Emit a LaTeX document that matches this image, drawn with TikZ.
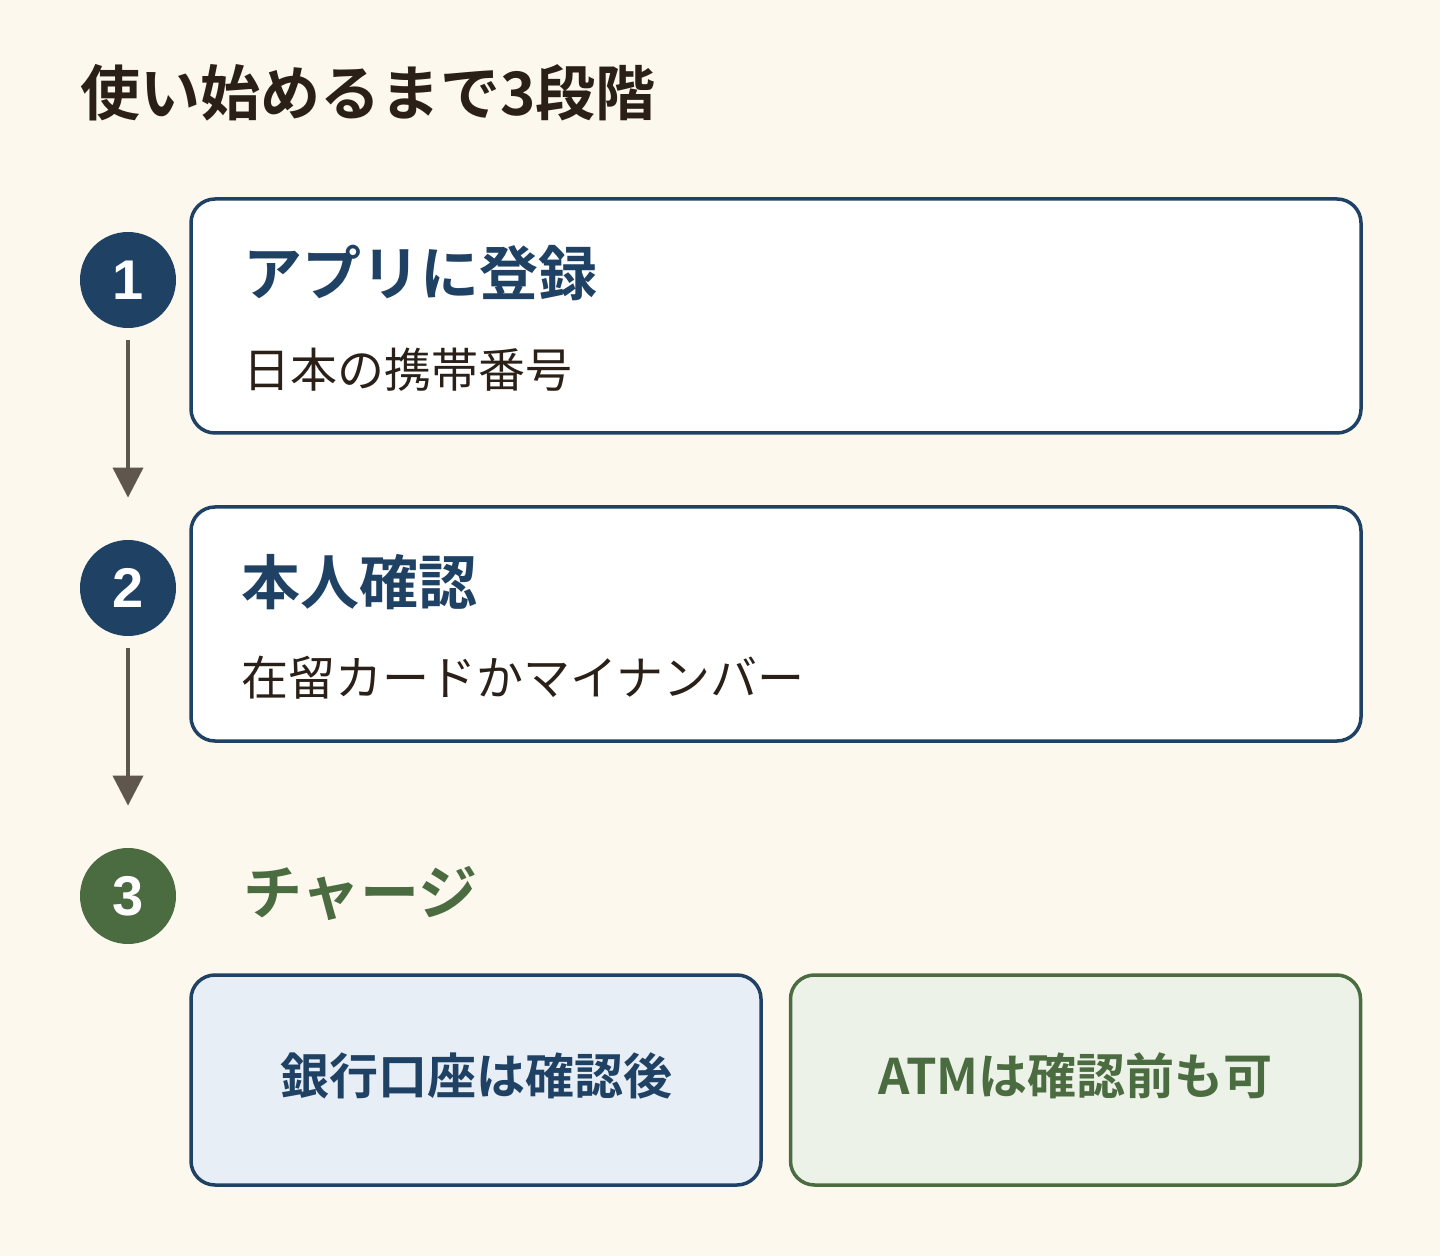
\documentclass[tikz,border=0pt]{standalone}
\usepackage{fontspec}
\setmainfont{Noto Sans CJK JP}[BoldFont={Noto Sans CJK JP Bold}]
\newfontfamily\digitfont{Liberation Sans}
\usetikzlibrary{arrows.meta,
                positioning}
\definecolor{paper}{HTML}{FCF8EE}
\definecolor{ink}{HTML}{2A2018}
\definecolor{navy}{HTML}{1F4164}
\definecolor{moss}{HTML}{4B6B40}
\definecolor{stone}{HTML}{5F574D}
\definecolor{navyfill}{HTML}{E8EEF6}
\definecolor{mossfill}{HTML}{EDF2E8}

\begin{document}
\begin{tikzpicture}[
x=0.5pt, y=-0.5pt,
   num/.style = {circle, fill=#1, text=white, minimum size=48pt,
                 inner sep=0pt, font=\digitfont\bfseries\fontsize{28}{28}\selectfont},
  card/.style = {rectangle, rounded corners=12pt, draw=#1, line width=1.75pt,
                 fill=white, minimum width=585pt, minimum height=117pt},
  half/.style = {rectangle, rounded corners=12pt, line width=1.75pt,
                 minimum width=285pt, minimum height=105pt},
  head/.style = {anchor=west, inner sep=0pt, text=#1,
                 font=\bfseries\fontsize{29.5}{30}\selectfont},
   sub/.style = {anchor=west, inner sep=0pt, text=ink,
                 font=\fontsize{23.5}{24}\selectfont},
  pick/.style = {text=#1, font=\bfseries\fontsize{24.5}{25}\selectfont},
  flow/.style = {stone, line width=2pt, -{Triangle[length=15pt, width=15pt]},
                 shorten <=6pt, shorten >=21pt},
                        ]
\useasboundingbox[fill=paper] (0,0) rectangle (1440,1256);
\node[anchor=west, inner sep=0pt, text=ink,
      font=\bfseries\fontsize{30}{30}\selectfont] (title) at (80,93) {使い始めるまで3段階};

% steps
\node[card=navy] (box1) at (776,316) {};
\node[card=navy] (box2) at (776,624) {};
\node[num=navy] (n1) at (128,280) {1};
\node[num=navy] (n2) at (128,588) {2};
\node[num=moss] (n3) at (128,896) {3};

\node[head=navy] (h1) at (243,273) {アプリに登録};
\node[sub] (s1) at (243,370) {日本の携帯番号};
\node[head=navy] (h2) at (241,582) {本人確認};
\node[sub] (s2) at (241,678) {在留カードかマイナンバー};
\node[head=moss] (h3) at (243,893) {チャージ};

\draw[flow] (n1) -- (n2);
\draw[flow] (n2) -- (n3);

% charge options
\node[half, draw=navy, fill=navyfill] (bank) at (476,1080) {};
\node[half, draw=moss, fill=mossfill] (atm) at (1075.5,1080) {};
\node[pick=navy] (bank-t) at (476,1076) {銀行口座は確認後};
\node[pick=moss] (atm-t) at (1075.5,1076) {ATMは確認前も可};
\end{tikzpicture}
\end{document}
